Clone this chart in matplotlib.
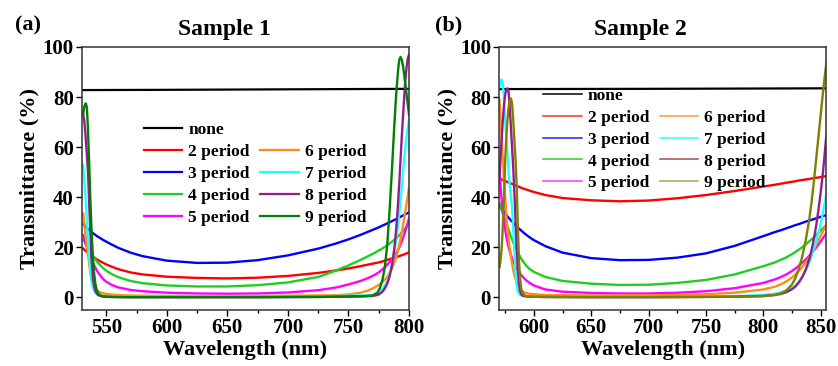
import matplotlib
matplotlib.use("Agg")
import matplotlib.pyplot as plt
from matplotlib.lines import Line2D
from matplotlib.ticker import MultipleLocator

plt.rcParams["font.family"] = ["Liberation Serif", "DejaVu Serif"]
plt.rcParams["font.weight"] = "bold"
plt.rcParams["axes.labelweight"] = "bold"

# ---- Sample 1 (a) ----
wl_a = [531, 532, 533, 534, 535, 536, 537, 538, 539, 540, 541, 542, 543, 544,
        546, 548, 550, 555, 560, 570, 580, 600, 625, 650, 675, 700, 725, 740, 750, 760, 765, 770,
        774, 776, 778, 780, 782, 784, 786, 788,
        789, 790, 791, 792, 793, 794, 795, 796, 797, 798, 799, 800]
none_a_wl = [531, 600, 700, 800]
none_a = [82.8, 82.9, 83.1, 83.3]
p2_a = [19.5, 19.0, 18.6, 18.2, 17.8, 17.4, 17.0, 16.6, 16.3, 16.0, 15.6, 15.3, 15.0, 14.7,
        14.2, 13.7, 13.2, 12.2, 11.3, 10.0, 9.2, 8.3, 7.8, 7.6, 7.9, 8.6, 9.8, 10.8, 11.6, 12.5, 13.0, 13.5,
        13.9, 14.1, 14.4, 14.7, 15.0, 15.3, 15.6, 15.9,
        16.0, 16.2, 16.4, 16.5, 16.7, 16.9, 17.0, 17.2, 17.4, 17.6, 17.8, 18.0]
p3_a = [29.3, 28.8, 28.3, 27.8, 27.3, 26.9, 26.5, 26.1, 25.7, 25.3, 25.0, 24.6, 24.3, 24.0,
        23.4, 22.8, 22.3, 21.0, 19.8, 17.9, 16.5, 14.7, 13.8, 13.9, 14.9, 16.8, 19.5, 21.6, 23.2, 25.0, 26.0, 27.0,
        27.8, 28.2, 28.7, 29.1, 29.6, 30.0, 30.5, 31.0,
        31.2, 31.5, 31.7, 32.0, 32.2, 32.5, 32.7, 33.0, 33.2, 33.5, 33.7, 34.0]
p4_a = [23.0, 22.2, 21.4, 20.6, 19.8, 19.0, 18.2, 17.4, 16.6, 15.9, 15.2, 14.6, 14.0, 13.4,
        12.4, 11.5, 10.7, 9.2, 8.1, 6.6, 5.7, 4.8, 4.4, 4.4, 4.9, 6.0, 8.2, 10.8, 12.8, 15.0, 16.2, 17.4,
        18.5, 19.0, 19.6, 20.2, 20.9, 21.6, 22.3, 23.1,
        23.5, 23.9, 24.4, 24.9, 25.4, 25.9, 26.5, 27.1, 27.7, 28.3, 29.0, 29.7]
p5_a = [24.8, 23.2, 21.6, 20.1, 18.7, 17.4, 16.2, 15.0, 13.9, 12.9, 11.9, 11.0, 10.2, 9.5,
        8.2, 7.1, 6.3, 4.9, 4.0, 3.0, 2.5, 1.9, 1.6, 1.5, 1.6, 2.0, 2.9, 4.0, 5.2, 6.6, 7.5, 8.6,
        9.7, 10.4, 11.2, 12.1, 13.1, 14.2, 15.4, 16.7,
        17.4, 18.2, 19.1, 20.1, 21.2, 22.4, 23.7, 25.1, 26.6, 28.2, 29.9, 31.6]
p6_a = [33.5, 29.0, 24.5, 21.0, 17.0, 13.0, 9.5, 7.0, 5.3, 4.2, 3.5, 3.0, 2.6, 2.3,
        1.9, 1.6, 1.4, 1.1, 0.95, 0.8, 0.7, 0.6, 0.55, 0.55, 0.6, 0.7, 0.8, 0.9, 1.2, 1.9, 2.6, 3.6,
        4.7, 5.4, 6.2, 7.1, 8.3, 9.8, 11.6, 14.2,
        15.6, 17.2, 19.0, 21.0, 23.3, 26.0, 28.8, 31.6, 34.6, 37.6, 40.8, 44.0]
p7_a = [53.0, 46.0, 39.0, 31.0, 23.0, 16.0, 10.0, 6.0, 3.8, 2.6, 1.9, 1.5, 1.2, 1.0,
        0.8, 0.6, 0.5, 0.4, 0.35, 0.3, 0.3, 0.3, 0.3, 0.3, 0.3, 0.35, 0.45, 0.6, 0.7, 0.8, 0.9, 1.0,
        1.4, 2.0, 3.2, 4.8, 6.5, 9.5, 13.5, 19.0,
        22.0, 25.5, 29.5, 34.0, 39.0, 44.0, 49.5, 55.0, 60.0, 64.5, 68.0, 71.0]
p8_a = [73.0, 70.0, 64.0, 57.0, 49.5, 36.0, 25.0, 14.5, 7.5, 4.5, 2.7, 1.7, 1.1, 0.8,
        0.5, 0.35, 0.3, 0.2, 0.2, 0.15, 0.15, 0.15, 0.15, 0.15, 0.15, 0.2, 0.25, 0.3, 0.35, 0.45, 0.5, 0.6,
        1.0, 1.5, 2.3, 3.6, 5.5, 8.5, 13.0, 20.0,
        25.0, 31.0, 38.0, 46.0, 55.0, 64.0, 72.0, 80.0, 87.0, 92.0, 95.5, 97.0]
p9_a = [73.5, 76.5, 77.5, 76.0, 66.0, 52.0, 37.0, 25.0, 16.0, 9.5, 5.5, 3.2, 1.9, 1.2,
        0.6, 0.4, 0.3, 0.2, 0.15, 0.1, 0.1, 0.1, 0.1, 0.1, 0.1, 0.15, 0.2, 0.3, 0.4, 0.5, 0.6, 0.8,
        2.0, 3.8, 7.0, 12.0, 21.0, 35.0, 52.0, 70.0,
        78.0, 85.0, 91.0, 95.0, 96.0, 95.0, 92.5, 89.0, 85.0, 81.0, 77.0, 73.0]

# ---- Sample 2 (b) ----
wl_b = [570, 571, 572, 573, 574, 575, 576, 577, 578, 579, 580, 581, 582, 583, 584, 585, 586, 587, 588, 589, 590,
        592, 594, 596, 600, 610, 625, 650, 675, 700, 725, 750, 775, 800,
        810, 815, 820, 825, 828, 831, 834, 837, 840, 842, 844, 846, 848, 850, 852, 854, 855]
none_b_wl = [570, 700, 855]
none_b = [83.2, 83.3, 83.5]
p2_b = [47.5, 47.3, 47.1, 46.9, 46.7, 46.5, 46.3, 46.1, 45.9, 45.7, 45.5, 45.3, 45.1, 44.9, 44.7, 44.5, 44.4, 44.2, 44.0, 43.8, 43.6,
        43.3, 43.0, 42.7, 42.1, 40.9, 39.7, 38.8, 38.4, 38.7, 39.6, 40.9, 42.5, 44.3,
        45.0, 45.4, 45.8, 46.2, 46.4, 46.7, 46.9, 47.1, 47.3, 47.5, 47.6, 47.8, 47.9, 48.1, 48.2, 48.4, 48.5]
p3_b = [36.5, 35.9, 35.3, 34.7, 34.1, 33.5, 32.9, 32.4, 31.8, 31.3, 30.8, 30.3, 29.8, 29.3, 28.8, 28.4, 27.9, 27.5, 27.1, 26.7, 26.3,
        25.5, 24.8, 24.1, 22.9, 20.5, 17.9, 15.7, 14.9, 15.0, 15.9, 17.6, 20.6, 24.5,
        26.1, 26.8, 27.6, 28.4, 28.9, 29.3, 29.8, 30.3, 30.7, 31.0, 31.3, 31.6, 31.9, 32.2, 32.5, 32.8, 33.0]
p4_b = [37.5, 36.2, 34.9, 33.6, 32.3, 31.0, 29.6, 28.3, 27.0, 25.6, 24.3, 23.1, 22.0, 20.9, 19.9, 18.9, 18.0, 17.1, 16.3, 15.5, 14.8,
        13.5, 12.4, 11.5, 10.2, 8.2, 6.6, 5.5, 5.0, 5.1, 5.8, 7.0, 9.2, 12.5,
        14.0, 15.0, 16.0, 17.3, 18.2, 19.1, 20.1, 21.2, 22.4, 23.2, 24.0, 24.9, 25.8, 26.7, 27.6, 28.5, 29.0]
p5_b = [50.0, 44.0, 38.5, 34.0, 30.0, 27.0, 24.3, 22.0, 20.0, 18.4, 17.0, 15.7, 14.5, 13.5, 12.5, 11.7, 11.0, 10.3, 9.6, 9.0, 8.4,
        7.4, 6.6, 5.9, 4.8, 3.2, 2.3, 1.8, 1.6, 1.6, 1.9, 2.5, 3.7, 5.8,
        7.2, 8.1, 9.2, 10.6, 11.6, 12.7, 13.9, 15.2, 16.6, 17.6, 18.7, 19.9, 21.1, 22.4, 23.7, 25.0, 25.7]
p6_b = [79.0, 71.0, 63.0, 55.0, 47.0, 40.0, 33.0, 27.0, 23.0, 19.5, 16.5, 13.5, 11.0, 9.0, 7.3, 6.0, 4.9, 4.0, 3.4, 2.9, 2.5,
        2.0, 1.7, 1.5, 1.3, 1.0, 0.9, 0.8, 0.8, 0.85, 1.0, 1.3, 1.9, 3.2,
        4.3, 5.2, 6.4, 8.0, 9.2, 10.6, 12.2, 14.0, 16.0, 17.5, 19.2, 21.0, 22.8, 24.6, 26.4, 28.2, 29.0]
p7_b = [84.0, 86.5, 87.0, 85.0, 79.0, 70.0, 64.0, 58.0, 50.0, 45.0, 40.0, 36.0, 28.0, 19.0, 10.0, 5.0, 2.5, 1.5, 1.0, 0.8, 0.7,
        0.5, 0.4, 0.35, 0.3, 0.25, 0.2, 0.2, 0.2, 0.2, 0.25, 0.35, 0.5, 1.0,
        1.5, 2.0, 2.6, 3.8, 4.8, 6.3, 8.3, 10.8, 14.0, 16.5, 19.3, 22.4, 25.8, 29.4, 34.0, 39.0, 41.5]
p8_b = [48.0, 56.0, 64.0, 71.0, 77.0, 81.0, 83.0, 83.5, 82.0, 76.0, 68.0, 60.0, 52.0, 42.0, 31.0, 20.0, 11.0, 5.5, 2.5, 1.3, 0.8,
        0.5, 0.4, 0.3, 0.25, 0.2, 0.2, 0.15, 0.15, 0.15, 0.2, 0.25, 0.3, 0.6,
        1.0, 1.4, 2.1, 3.3, 4.4, 6.0, 8.2, 11.2, 15.2, 18.8, 23.2, 28.5, 34.8, 42.0, 50.0, 60.0, 65.0]
p9_b = [12.0, 15.0, 20.0, 29.0, 40.0, 55.0, 64.0, 71.0, 76.0, 79.0, 79.5, 77.5, 71.0, 63.0, 55.0, 45.0, 29.0, 15.0, 7.5, 3.5, 1.8,
        0.8, 0.5, 0.4, 0.3, 0.2, 0.15, 0.1, 0.1, 0.1, 0.15, 0.2, 0.25, 0.5,
        1.0, 1.6, 2.8, 5.2, 7.8, 11.5, 16.5, 23.0, 31.0, 38.0, 46.0, 55.0, 64.0, 73.0, 82.0, 90.0, 94.0]

labels = ["2 period", "3 period", "4 period", "5 period",
          "6 period", "7 period", "8 period", "9 period"]
colors_a = ["#ff0000", "#0000ff", "#22cc22", "#ff00ff",
            "#ff8c1a", "#22ffff", "#8f1f8f", "#008000"]
colors_b = ["#ff0000", "#0000ff", "#22cc22", "#ff00ff",
            "#ff8c1a", "#22ffff", "#8f1f8f", "#808000"]
legend_colors_b = ["#ff3030", "#2020ff", "#33cc33", "#ff33ff",
                   "#ff9933", "#33ffff", "#a0504c", "#b89c5c"]

fig = plt.figure(figsize=(8.38, 3.66), dpi=100)
ax_a = fig.add_axes([0.0979, 0.153, 0.3902, 0.7186])
ax_b = fig.add_axes([0.596, 0.153, 0.3902, 0.7186])

panels = [
    (ax_a, wl_a, none_a_wl, none_a, [p2_a, p3_a, p4_a, p5_a, p6_a, p7_a, p8_a, p9_a],
     colors_a, colors_a, (530, 800), [550, 600, 650, 700, 750, 800], "Sample 1", "(a)",
     0.437, (0.19, 0.715), 1.6),
    (ax_b, wl_b, none_b_wl, none_b, [p2_b, p3_b, p4_b, p5_b, p6_b, p7_b, p8_b, p9_b],
     colors_b, legend_colors_b, (570, 855), [600, 650, 700, 750, 800, 850], "Sample 2", "(b)",
     0.43, (0.1346, 0.845), 1.1),
]

for ax, wl, nwl, nval, series, cols, lcols, xlim, xticks, title, tag, tx, lpos, llw in panels:
    ax.plot(nwl, nval, color="black", lw=1.6)
    for vals, c in zip(series, cols):
        ax.plot(wl, vals, color=c, lw=1.7)

    ax.set_xlim(*xlim)
    ax.set_ylim(-5, 100)
    ax.set_xticks(xticks)
    ax.xaxis.set_minor_locator(MultipleLocator(25))
    ax.set_yticks([0, 20, 40, 60, 80, 100])
    ax.tick_params(axis="both", which="major", direction="out", length=4, width=1,
                   labelsize=15, pad=2)
    ax.tick_params(axis="x", which="minor", direction="out", length=2.5, width=1)
    for s in ax.spines.values():
        s.set_linewidth(1.1)
        s.set_color("#333333")
    ax.set_xlabel("Wavelength (nm)", fontsize=16, labelpad=1)
    ax.set_ylabel("Transmittance (%)", fontsize=16, labelpad=2)
    ax.text(tx, 1.068, title, transform=ax.transAxes, ha="center", va="center",
            fontsize=17, fontweight="bold")

    handles = [Line2D([], [], color="black", lw=llw)]
    handles += [Line2D([], [], color=c, lw=llw) for c in lcols]
    blank = Line2D([], [], color="none")
    order = [handles[0], handles[1], handles[2], handles[3], handles[4],
             blank, handles[5], handles[6], handles[7], handles[8]]
    names = ["none"] + labels[:4] + [""] + labels[4:]
    ax.legend(order, names, loc="upper left", bbox_to_anchor=lpos, ncol=2,
              frameon=False, borderpad=0, borderaxespad=0, fontsize=12.5,
              handlelength=2.2, handletextpad=0.35, columnspacing=0.6,
              labelspacing=0.33)

fig.text(15 / 838, 1 - 25 / 366, "(a)", ha="left", va="center", fontsize=16, fontweight="bold")
fig.text(435 / 838, 1 - 25 / 366, "(b)", ha="left", va="center", fontsize=16, fontweight="bold")

fig.savefig("out.png", dpi=100)
